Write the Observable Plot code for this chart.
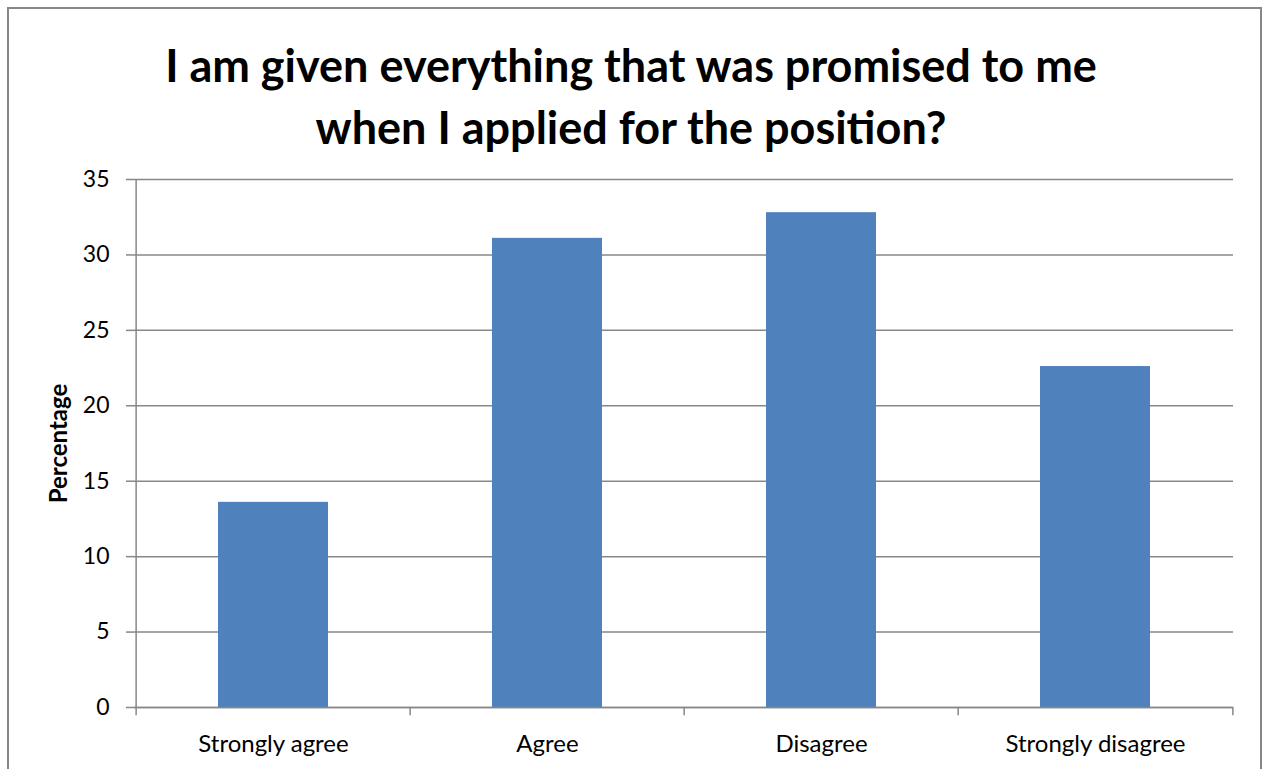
<!DOCTYPE html>
<html>
<head>
<meta charset="utf-8">
<script src="https://cdn.jsdelivr.net/npm/d3@7"></script>
<script src="https://cdn.jsdelivr.net/npm/@observablehq/plot@0.6"></script>
<style>
  html, body { margin: 0; padding: 0; background: #fff; }
  #wrap { position: relative; width: 1262px; height: 769px; overflow: hidden; background: #fff; font-family: Lato, "Open Sans", sans-serif; }
  #border { position: absolute; left: 7px; top: 7px; width: 1255px; height: 800px; border: 2px solid #878787; box-sizing: border-box; z-index: 2; pointer-events: none; }
  #title { position: absolute; left: 0; width: 1262px; top: 34px; text-align: center; font-family: Lato, "Open Sans", sans-serif; font-weight: 700; font-size: 45px; line-height: 62px; color: #000; }
  #chart { position: absolute; left: 0; top: 165px; }
</style>
</head>
<body>
<div id="wrap">
  <div id="border"></div>
  <div id="title">I am given everything that was promised to me<br>when I applied for the position?</div>
  <div id="chart"></div>
</div>
<script>
const categories = ["Strongly agree", "Agree", "Disagree", "Strongly disagree"];
const percentages = [13.6, 31.1, 32.8, 22.6];
const yTicks = [0, 5, 10, 15, 20, 25, 30, 35];
const yLabel = "Percentage";

const data = categories.map((c, i) => ({category: c, value: percentages[i]}));

const width = 1262, height = 604;
const marginLeft = 134, marginRight = 29, marginTop = 14, marginBottom = 62;
const step = (width - marginLeft - marginRight) / categories.length;
const grey = "#878787";

const chart = Plot.plot({
  width, height, marginLeft, marginRight, marginTop, marginBottom,
  style: {fontFamily: "Lato, 'Open Sans', sans-serif", color: "#000", background: "transparent"},
  x: {domain: categories, paddingInner: 0.6, paddingOuter: 0.3, label: null},
  y: {domain: [0, 35], label: null},
  marks: [
    Plot.gridY(yTicks, {stroke: grey, strokeOpacity: 1, strokeWidth: 1.5}),
    Plot.barY(data, {x: "category", y: "value", fill: "#4F81BD"}),
    Plot.ruleX([categories[0]], {dx: -step / 2, y1: 0, y2: 35, stroke: grey, strokeWidth: 1.5}),
    Plot.ruleY([0], {stroke: grey, strokeWidth: 1.5}),
    Plot.ruleX(categories, {dx: -step / 2, y1: 0, y2: -0.55, stroke: grey, strokeWidth: 1.5}),
    Plot.ruleX([categories[categories.length - 1]], {dx: step / 2, y1: 0, y2: -0.55, stroke: grey, strokeWidth: 1.5}),
    Plot.axisY(yTicks, {tickSize: 8, tickPadding: 17, fontSize: 23, stroke: grey, strokeWidth: 1.5, label: null, fill: "#000"}),
    Plot.axisX({tickSize: 0, tickPadding: 27, fontSize: 24, label: null, fill: "#000"}),
    Plot.text([yLabel], {frameAnchor: "left", dx: -75, rotate: -90, textAnchor: "middle", fontSize: 24, fontWeight: "bold", fill: "#000"})
  ]
});
document.getElementById("chart").appendChild(chart);
</script>
</body>
</html>
